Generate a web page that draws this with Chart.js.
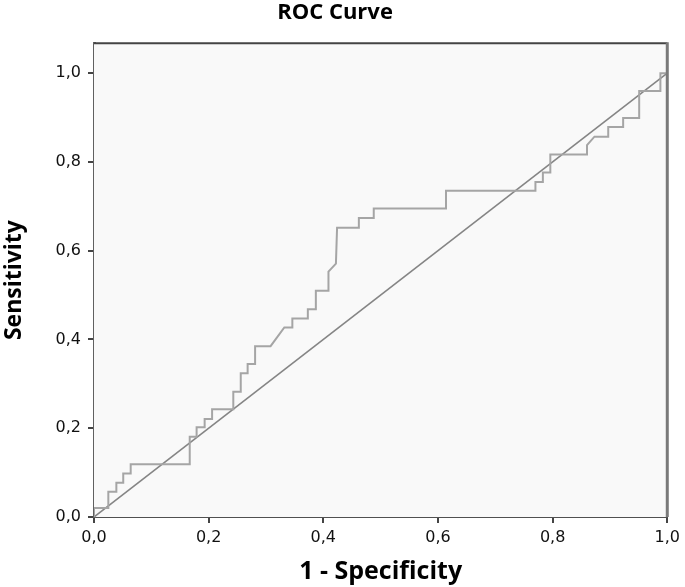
<!DOCTYPE html>
<html>
<head>
<meta charset="utf-8">
<script src="https://cdn.jsdelivr.net/npm/chart.js@4"></script>
<style>
html, body { margin: 0; padding: 0; background: #fff; }
#wrap { width: 685px; height: 587px; }
</style>
</head>
<body>
<div id="wrap"><canvas id="roc" width="685" height="587"></canvas></div>
<script>

/* DATOS */

const fpr = [0, 0, 0.025, 0.025, 0.039, 0.039, 0.051, 0.051, 0.064, 0.064, 0.167, 0.167, 0.179, 0.179, 0.193, 0.193, 0.206, 0.206, 0.243, 0.243, 0.256, 0.256, 0.268, 0.268, 0.281, 0.281, 0.308, 0.332, 0.346, 0.346, 0.373, 0.373, 0.387, 0.387, 0.409, 0.409, 0.422, 0.424, 0.462, 0.462, 0.488, 0.488, 0.614, 0.614, 0.770, 0.770, 0.783, 0.783, 0.796, 0.796, 0.860, 0.860, 0.873, 0.897, 0.897, 0.923, 0.923, 0.951, 0.951, 0.988, 0.988, 1.0];

const tpr = [0, 0.02, 0.02, 0.057, 0.057, 0.077, 0.077, 0.098, 0.098, 0.119, 0.119, 0.181, 0.181, 0.202, 0.202, 0.221, 0.221, 0.243, 0.243, 0.282, 0.282, 0.324, 0.324, 0.345, 0.345, 0.385, 0.385, 0.427, 0.427, 0.447, 0.447, 0.468, 0.468, 0.510, 0.510, 0.553, 0.571, 0.652, 0.652, 0.674, 0.674, 0.695, 0.695, 0.735, 0.735, 0.755, 0.755, 0.776, 0.776, 0.817, 0.817, 0.838, 0.857, 0.857, 0.879, 0.879, 0.899, 0.899, 0.960, 0.960, 1.0, 1.0];

const diagX = [0, 1];
const diagY = [0, 1];

const xTicks = [0, 0.2, 0.4, 0.6, 0.8, 1.0];
const yTicks = [0, 0.2, 0.4, 0.6, 0.8, 1.0];

function coma(v){
  return v.toFixed(1).replace('.', ',');
}

/* FONDO Y MARCO */

const marco = {
  id: 'marco',
  beforeDatasetsDraw(chart){
    const a = chart.chartArea;
    const c = chart.ctx;
    c.save();
    c.fillStyle = '#f9f9f9';
    c.fillRect(a.left, a.top, a.right - a.left, a.bottom - a.top);
    c.restore();
  },
  afterDraw(chart){
    const a = chart.chartArea;
    const c = chart.ctx;
    c.save();
    c.strokeStyle = '#444';
    c.lineWidth = 2;
    c.beginPath();
    c.moveTo(a.left, a.top);
    c.lineTo(a.right, a.top);
    c.stroke();
    c.strokeStyle = '#7a7a7a';
    c.lineWidth = 3;
    c.beginPath();
    c.moveTo(a.right, a.top - 1);
    c.lineTo(a.right, a.bottom);
    c.stroke();
    c.restore();
  }
};

/* GRAFICA ROC */

const ctx = document.getElementById('roc');

new Chart(ctx, {
  type: 'scatter',
  data: {
    datasets: [
      {
        label: 'Referencia',
        data: diagX.map((x, i) => ({x: x, y: diagY[i]})),
        showLine: true,
        borderColor: '#858585',
        borderWidth: 1.6,
        pointRadius: 0,
        order: 2
      },
      {
        label: 'ROC',
        data: fpr.map((x, i) => ({x: x, y: tpr[i]})),
        showLine: true,
        borderColor: '#a5a5a5',
        borderWidth: 2,
        pointRadius: 0,
        order: 1
      }
    ]
  },
  options: {
    responsive: false,
    animation: false,
    layout: { padding: { left: 0, right: 15, top: 0, bottom: 0 } },
    plugins: {
      legend: { display: false },
      tooltip: { enabled: false },
      title: {
        display: true,
        text: 'ROC Curve',
        color: '#000',
        font: { family: 'Open Sans', size: 22, weight: 'bold', lineHeight: 1.1 },
        padding: { top: 1, bottom: 18 }
      }
    },
    scales: {
      x: {
        type: 'linear',
        min: 0,
        max: 1,
        afterFit(s){ s.height = 70; },
        afterBuildTicks(s){ s.ticks = xTicks.map(v => ({value: v})); },
        border: { color: '#505050', width: 2 },
        grid: { drawOnChartArea: false, drawTicks: true, tickLength: 6, tickColor: '#444', lineWidth: 2 },
        ticks: {
          color: '#111',
          padding: 5,
          maxRotation: 0,
          font: { family: 'DejaVu Sans', size: 16 },
          callback: v => coma(v)
        },
        title: {
          display: true,
          text: '1 - Specificity',
          color: '#000',
          font: { family: 'Open Sans', size: 25, weight: 'bold', lineHeight: 1.1 },
          padding: { top: 0, bottom: 1 }
        }
      },
      y: {
        type: 'linear',
        min: 0,
        max: 1.0676,
        afterFit(s){ s.width = 94; },
        afterBuildTicks(s){ s.ticks = yTicks.map(v => ({value: v})); },
        border: { color: '#606060', width: 3 },
        grid: { drawOnChartArea: false, drawTicks: true, tickLength: 6, tickColor: '#444', lineWidth: 2 },
        ticks: {
          color: '#111',
          padding: 7,
          font: { family: 'DejaVu Sans', size: 16 },
          callback: v => coma(v)
        },
        title: {
          display: true,
          text: 'Sensitivity',
          color: '#000',
          font: { family: 'Open Sans', size: 23, weight: 'bold', lineHeight: 1.1 },
          padding: { top: 2, bottom: 0 }
        }
      }
    }
  },
  plugins: [marco]
});

</script>
</body>
</html>
